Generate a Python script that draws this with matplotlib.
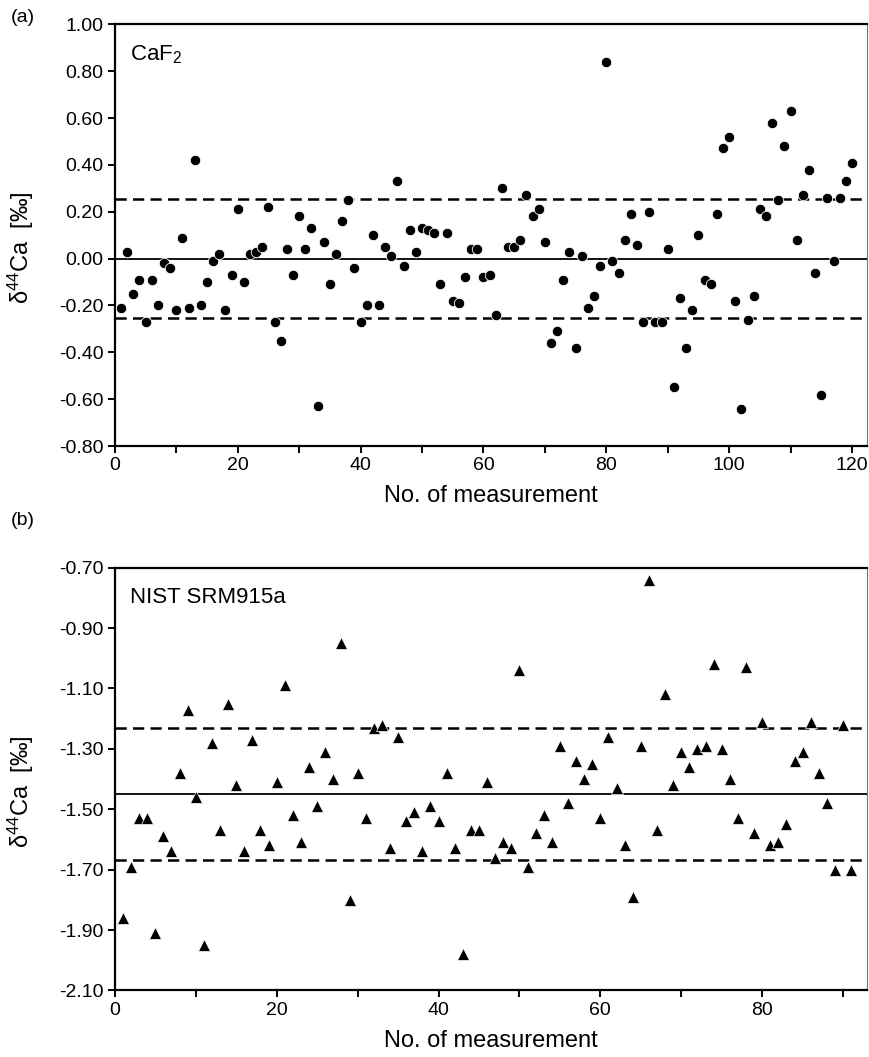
import numpy as np
import matplotlib.pyplot as plt
from matplotlib.ticker import MultipleLocator, FixedLocator, FormatStrFormatter

plt.rcParams['font.family'] = ['Liberation Sans', 'DejaVu Sans']
plt.rcParams['mathtext.fontset'] = 'custom'
plt.rcParams['mathtext.rm'] = 'Liberation Sans'
plt.rcParams['mathtext.it'] = 'Liberation Sans:italic'

# (a) CaF2, measurement 1..120
caf2 = [-0.21, 0.03, -0.15, -0.09, -0.27, -0.09, -0.20, -0.02, -0.04, -0.22,
        0.09, -0.21, 0.42, -0.20, -0.10, -0.01, 0.02, -0.22, -0.07, 0.21,
        -0.10, 0.02, 0.03, 0.05, 0.22, -0.27, -0.35, 0.04, -0.07, 0.18,
        0.04, 0.13, -0.63, 0.07, -0.11, 0.02, 0.16, 0.25, -0.04, -0.27,
        -0.20, 0.10, -0.20, 0.05, 0.01, 0.33, -0.03, 0.12, 0.03, 0.13,
        0.12, 0.11, -0.11, 0.11, -0.18, -0.19, -0.08, 0.04, 0.04, -0.08,
        -0.07, -0.24, 0.30, 0.05, 0.05, 0.08, 0.27, 0.18, 0.21, 0.07,
        -0.36, -0.31, -0.09, 0.03, -0.38, 0.01, -0.21, -0.16, -0.03, 0.84,
        -0.01, -0.06, 0.08, 0.19, 0.06, -0.27, 0.20, -0.27, -0.27, 0.04,
        -0.55, -0.17, -0.38, -0.22, 0.10, -0.09, -0.11, 0.19, 0.47, 0.52,
        -0.18, -0.64, -0.26, -0.16, 0.21, 0.18, 0.58, 0.25, 0.48, 0.63,
        0.08, 0.27, 0.38, -0.06, -0.58, 0.26, -0.01, 0.26, 0.33, 0.41]
caf2_mean = 0.0
caf2_2sd = 0.253
caf2_yticks = [-0.80, -0.60, -0.40, -0.20, 0.00, 0.20, 0.40, 0.60, 0.80, 1.00]

# (b) NIST SRM915a, measurement 1..91
nist = [-1.86, -1.69, -1.53, -1.53, -1.91, -1.59, -1.64, -1.38, -1.17, -1.46,
        -1.95, -1.28, -1.57, -1.15, -1.42, -1.64, -1.27, -1.57, -1.62, -1.41,
        -1.09, -1.52, -1.61, -1.36, -1.49, -1.31, -1.40, -0.95, -1.80, -1.38,
        -1.53, -1.23, -1.22, -1.63, -1.26, -1.54, -1.51, -1.64, -1.49, -1.54,
        -1.38, -1.63, -1.98, -1.57, -1.57, -1.41, -1.66, -1.61, -1.63, -1.04,
        -1.69, -1.58, -1.52, -1.61, -1.29, -1.48, -1.34, -1.40, -1.35, -1.53,
        -1.26, -1.43, -1.62, -1.79, -1.29, -0.74, -1.57, -1.12, -1.42, -1.31,
        -1.36, -1.30, -1.29, -1.02, -1.30, -1.40, -1.53, -1.03, -1.58, -1.21,
        -1.62, -1.61, -1.55, -1.34, -1.31, -1.21, -1.38, -1.48, -1.70, -1.22,
        -1.70]
nist_mean = -1.45
nist_2sd = 0.218
nist_yticks = [-2.10, -1.90, -1.70, -1.50, -1.30, -1.10, -0.90, -0.70]

ylabel = r'δ$^{44}$Ca  [‰]'
xlabel = 'No. of measurement'

fig = plt.figure(figsize=(8.7, 10.57), dpi=100)
ax1 = fig.add_axes([0.132, 0.578, 0.865, 0.399])
ax2 = fig.add_axes([0.132, 0.063, 0.865, 0.400])


def style(ax, xmax, yticks):
    ax.set_xlim(0, xmax)
    ax.set_ylim(yticks[0], yticks[-1])
    ax.xaxis.set_major_locator(MultipleLocator(20))
    ax.xaxis.set_minor_locator(MultipleLocator(10))
    ax.yaxis.set_major_locator(FixedLocator(yticks))
    ax.yaxis.set_major_formatter(FormatStrFormatter('%.2f'))
    ax.tick_params(which='both', direction='out', length=5, width=1.4,
                   labelsize=14, top=False, right=False, pad=3)
    for side in ['left', 'bottom', 'top']:
        ax.spines[side].set_linewidth(1.6)
    ax.spines['right'].set_linewidth(0.8)
    ax.spines['right'].set_color('0.45')
    ax.set_xlabel(xlabel, fontsize=17, labelpad=8)
    ax.set_ylabel(ylabel, fontsize=17)
    ax.yaxis.set_label_coords(-0.105, 0.47)


# panel a
x1 = np.arange(1, len(caf2) + 1)
ax1.axhline(caf2_mean, color='black', lw=1.3)
ax1.axhline(caf2_mean + caf2_2sd, color='black', lw=1.8, dashes=(4.5, 2.5))
ax1.axhline(caf2_mean - caf2_2sd, color='black', lw=1.8, dashes=(4.5, 2.5))
ax1.plot(x1, caf2, 'o', color='black', ms=7.5, mec='white', mew=0.6, zorder=3)
style(ax1, 122.5, caf2_yticks)
ax1.text(0.02, 0.955, r'CaF$_2$', transform=ax1.transAxes, fontsize=16,
         va='top', ha='left')

# panel b
x2 = np.arange(1, len(nist) + 1)
ax2.axhline(nist_mean, color='black', lw=1.3)
ax2.axhline(nist_mean + nist_2sd, color='black', lw=1.8, dashes=(4.5, 2.5))
ax2.axhline(nist_mean - nist_2sd, color='black', lw=1.8, dashes=(4.5, 2.5))
ax2.plot(x2, nist, '^', color='black', ms=8, mec='white', mew=0.5, zorder=3)
style(ax2, 93, nist_yticks)
ax2.text(0.02, 0.955, 'NIST SRM915a', transform=ax2.transAxes, fontsize=16,
         va='top', ha='left')

fig.text(0.012, 0.983, '(a)', fontsize=14, va='center')
fig.text(0.012, 0.508, '(b)', fontsize=14, va='center')

fig.savefig('out.png', dpi=100)
